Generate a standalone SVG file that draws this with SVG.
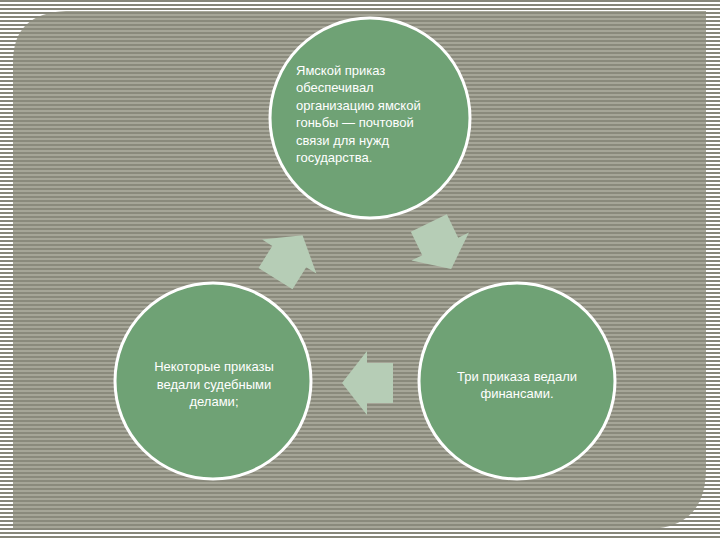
<svg xmlns="http://www.w3.org/2000/svg" width="720" height="540" viewBox="0 0 720 540">
  <defs>
    <pattern id="outerStripes" width="4" height="4" patternUnits="userSpaceOnUse">
      <rect width="4" height="4" fill="#ffffff"/>
      <rect width="4" height="2" fill="#86867a"/>
    </pattern>
    <pattern id="panelStripes" width="4" height="4" patternUnits="userSpaceOnUse">
      <rect width="4" height="4" fill="#a6a698"/>
      <rect width="4" height="2" fill="#8a8a7c"/>
    </pattern>
    <path id="blockArrow" d="M -25.5,-20 L 0.5,-20 L 0.5,-32 L 25.5,0 L 0.5,32 L 0.5,20 L -25.5,20 Z"/>
  </defs>
  <style>
    .node circle { fill: #6fa275; stroke: #ffffff; stroke-width: 3; }
    .node text { fill: #ffffff; font-family: "Liberation Sans", Arial, sans-serif; font-size: 13px; }
    .arrow { fill: #b6cdb6; }
  </style>

  <rect width="720" height="540" fill="url(#outerStripes)"/>
  <path d="M 66,11 L 706,11 L 706,468 Q 706,528 648,529 L 13,529 L 13,62 Q 13,13 66,11 Z" fill="url(#panelStripes)"/>

  <g id="connectors">
    <use href="#blockArrow" class="arrow" transform="translate(289,257) rotate(-58)"/>
    <use href="#blockArrow" class="arrow" transform="translate(440,246) rotate(64)"/>
    <use href="#blockArrow" class="arrow" transform="translate(367.5,383) rotate(180)"/>
  </g>

  <g id="node-top" class="node">
    <circle cx="370" cy="118" r="100"/>
    <text x="296" y="75">Ямской приказ</text>
    <text x="296" y="92.4">обеспечивал</text>
    <text x="296" y="109.8">организацию ямской</text>
    <text x="296" y="127.2">гоньбы — почтовой</text>
    <text x="296" y="144.6">связи для нужд</text>
    <text x="296" y="162">государства.</text>
  </g>

  <g id="node-left" class="node">
    <circle cx="213" cy="381" r="98"/>
    <text x="214" y="371" text-anchor="middle">Некоторые приказы</text>
    <text x="214" y="389" text-anchor="middle">ведали судебными</text>
    <text x="214" y="406" text-anchor="middle">делами;</text>
  </g>

  <g id="node-right" class="node">
    <circle cx="517" cy="381" r="98"/>
    <text x="517" y="381" text-anchor="middle">Три приказа ведали</text>
    <text x="517" y="398" text-anchor="middle">финансами.</text>
  </g>
</svg>
